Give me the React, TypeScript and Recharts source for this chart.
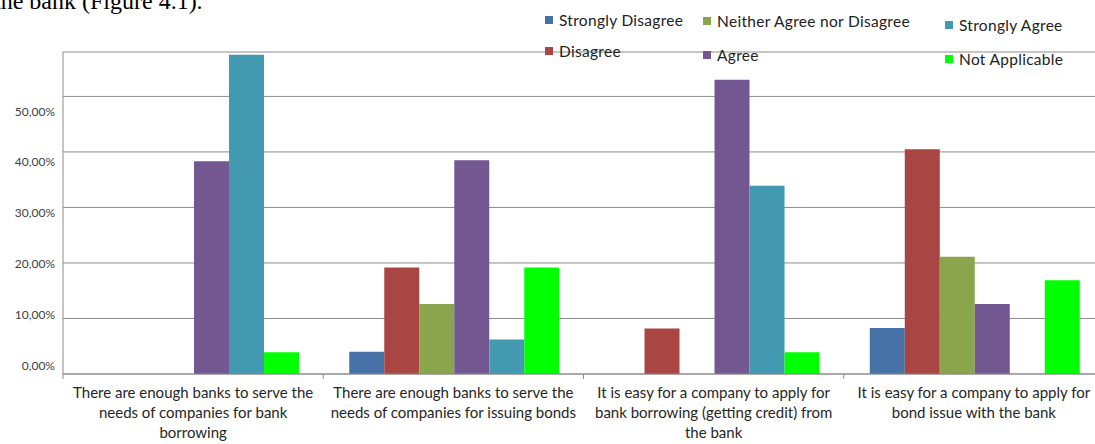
import { BarChart, Bar, XAxis, YAxis, CartesianGrid } from "recharts";

// category labels, broken into the lines shown under the axis
const categoryLines = [
  ["There are enough banks to serve the", "needs of companies for bank", "borrowing"],
  ["There are enough banks to serve the", "needs of companies for issuing bonds"],
  ["It is easy for a company to apply for", "bank borrowing (getting credit) from", "the bank"],
  ["It is easy for a company to apply for", "bond issue with the bank"],
];
const categories = categoryLines.map((lines) => lines.join(" "));

// answers in percent of respondents
const stronglyDisagree = [0, 4.0, 0, 8.3];
const disagree = [0, 19.2, 8.2, 40.5];
const neither = [0, 12.6, 0, 21.1];
const agree = [38.3, 38.5, 53.0, 12.6];
const stronglyAgree = [57.5, 6.2, 33.9, 0];
const notApplicable = [3.9, 19.2, 3.9, 16.9];

const yTicks = [0, 10, 20, 30, 40, 50];
const Y_MAX = 58;

const series = [
  { key: "stronglyDisagree", name: "Strongly Disagree", color: "#4672a8", values: stronglyDisagree },
  { key: "disagree", name: "Disagree", color: "#a94542", values: disagree },
  { key: "neither", name: "Neither Agree nor Disagree", color: "#8aa54c", values: neither },
  { key: "agree", name: "Agree", color: "#735791", values: agree },
  { key: "stronglyAgree", name: "Strongly Agree", color: "#4299b0", values: stronglyAgree },
  { key: "notApplicable", name: "Not Applicable", color: "#00ff00", values: notApplicable },
];

const chartData = categories.map((category, i) => {
  const row: Record<string, string | number> = { category };
  series.forEach((s) => {
    row[s.key] = s.values[i];
  });
  return row;
});

const CHART_W = 1110;
const CHART_H = 444;
const MARGIN = { top: 52, right: 6, left: 0, bottom: 0 };
const Y_AXIS_W = 63;
const BAND = (CHART_W - MARGIN.left - MARGIN.right - Y_AXIS_W) / categories.length;

// legend is laid out in three staggered columns
const legendSlots = [
  { x: 545, y: 20 },
  { x: 545, y: 51 },
  { x: 703, y: 21 },
  { x: 703, y: 55 },
  { x: 945, y: 25 },
  { x: 945, y: 59 },
];

const FONT = "Lato, 'Open Sans', sans-serif";

const formatPct = (v: number) => `${v.toFixed(2).replace(".", ",")}%`;

function YTick({ x, y, payload }: any) {
  // labels run on a slightly tighter step than the gridlines
  const shift = -9 + payload.value * 0.472;
  return (
    <text
      x={x}
      y={y + shift}
      textAnchor="end"
      dominantBaseline="central"
      fill="#404040"
      fontSize={12}
      fontFamily={FONT}
    >
      {formatPct(payload.value)}
    </text>
  );
}

function XTick({ x, y, payload }: any) {
  const idx = categories.indexOf(payload.value);
  const lines = categoryLines[idx] || [payload.value];
  const last = idx === categories.length - 1;
  return (
    <g>
      <line x1={x - BAND / 2} x2={x - BAND / 2} y1={y - 5} y2={y} stroke="#8c8c8c" />
      {last && <line x1={x + BAND / 2} x2={x + BAND / 2} y1={y - 5} y2={y} stroke="#8c8c8c" />}
      <text x={x} y={y} textAnchor="middle" fill="#262626" fontSize={15} fontFamily={FONT}>
        {lines.map((line, i) => (
          <tspan key={i} x={x} dy={i === 0 ? 19 : 20}>
            {line}
          </tspan>
        ))}
      </text>
    </g>
  );
}

export default function App() {
  return (
    <div
      style={{
        position: "fixed",
        left: 0,
        top: 0,
        width: 1095,
        height: 444,
        overflow: "hidden",
        background: "#fff",
      }}
    >
      <div
        style={{
          position: "absolute",
          left: -6,
          top: -11,
          fontFamily: "'Liberation Serif', 'Times New Roman', serif",
          fontSize: 24,
          lineHeight: 1,
          color: "#000",
          whiteSpace: "nowrap",
        }}
      >
        the bank (Figure 4.1).
      </div>

      <BarChart
        width={CHART_W}
        height={CHART_H}
        data={chartData}
        margin={MARGIN}
        barCategoryGap="10%"
        barGap={0}
      >
        <CartesianGrid vertical={false} stroke="#8c8c8c" />
        <XAxis
          dataKey="category"
          height={CHART_H - 374 - MARGIN.bottom}
          interval={0}
          tickLine={false}
          tickSize={5}
          tickMargin={0}
          axisLine={{ stroke: "#8c8c8c" }}
          tick={<XTick />}
        />
        <YAxis
          width={Y_AXIS_W}
          domain={[0, Y_MAX]}
          ticks={yTicks}
          interval={0}
          tickLine={false}
          axisLine={{ stroke: "#8c8c8c" }}
          tick={<YTick />}
        />
        {series.map((s) => (
          <Bar key={s.key} dataKey={s.key} name={s.name} fill={s.color} isAnimationActive={false} />
        ))}
      </BarChart>

      {series.map((s, i) => (
        <div
          key={s.key}
          style={{
            position: "absolute",
            left: legendSlots[i].x,
            top: legendSlots[i].y - 10,
            height: 20,
            display: "flex",
            alignItems: "center",
            fontFamily: FONT,
            fontSize: 15.5,
            letterSpacing: 0.3,
            color: "#222",
            whiteSpace: "nowrap",
          }}
        >
          <span style={{ width: 8, height: 8, background: s.color, marginRight: 6 }} />
          {s.name}
        </div>
      ))}
    </div>
  );
}
